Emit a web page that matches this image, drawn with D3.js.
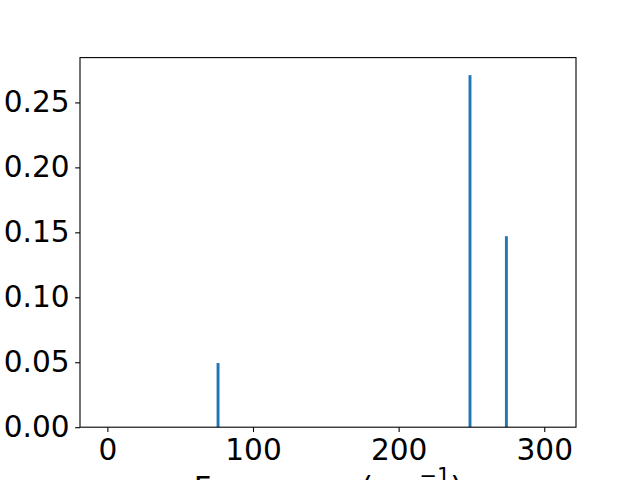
<!DOCTYPE html>
<html><head><meta charset="utf-8">
<script src="https://cdn.jsdelivr.net/npm/d3@7"></script>
<style>body{margin:0;background:#fff;} svg{display:block;}</style>
</head><body>
<script>
const frequencies = [76, 249, 274];
const intensities = [0.0494, 0.271, 0.147];
const xTicks = [0, 100, 200, 300];
const yTicks = [0, 0.05, 0.10, 0.15, 0.20, 0.25];
const barWidth = 2;

const W = 640, H = 480;
const L = 80, R = 576, T = 57.6, B = 427.2;
const svg = d3.select("body").append("svg").attr("width", W).attr("height", H);
const x = d3.scaleLinear().domain([-18.8, 321.8]).range([L, R]);
const y = d3.scaleLinear().domain([0, 0.2845]).range([B, T]);
const font = "DejaVu Sans";
const fs = 29.6;

svg.append("g").selectAll("rect").data(frequencies).join("rect")
  .attr("x", (d) => x(d - barWidth / 2))
  .attr("width", (d) => x(d + barWidth / 2) - x(d - barWidth / 2))
  .attr("y", (d, i) => y(intensities[i]))
  .attr("height", (d, i) => y(0) - y(intensities[i]))
  .attr("fill", "#1f77b4");

const xAxis = svg.append("g").attr("transform", `translate(0,${B})`)
  .call(d3.axisBottom(x).tickValues(xTicks).tickFormat(d3.format("d")).tickSize(4.86).tickPadding(6));
const yAxis = svg.append("g").attr("transform", `translate(${L},0)`)
  .call(d3.axisLeft(y).tickValues(yTicks).tickFormat(d3.format(".2f")).tickSize(4.86).tickPadding(5.5));
[xAxis, yAxis].forEach(g => {
  g.select(".domain").remove();
  g.selectAll("line").attr("stroke", "#000").attr("stroke-width", 1.1);
  g.selectAll("text").attr("font-family", font).attr("font-size", fs).attr("fill", "#000");
});
xAxis.selectAll("text").attr("y", 32.8).attr("dy", 0);

svg.append("rect").attr("x", L).attr("y", T).attr("width", R - L).attr("height", B - T)
  .attr("fill", "none").attr("stroke", "#000").attr("stroke-width", 1.1);

const xl = svg.append("text").attr("x", (L + R) / 2).attr("y", 498)
  .attr("text-anchor", "middle").attr("font-family", font).attr("font-size", 30.5).attr("fill", "#000");
xl.append("tspan").text("Frequency (cm");
xl.append("tspan").attr("dy", -15).attr("font-size", 21).text("−1");
xl.append("tspan").attr("dy", 15).text(")");
</script>
</body></html>
